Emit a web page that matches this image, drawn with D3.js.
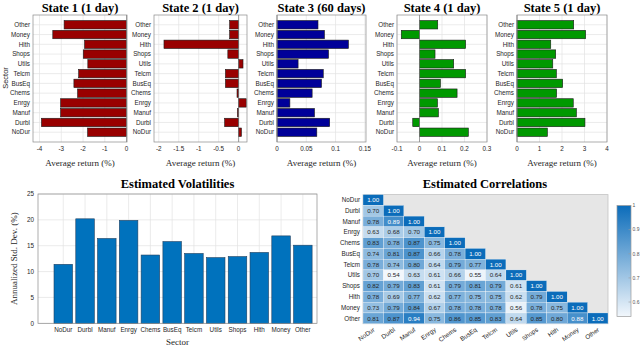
<!DOCTYPE html>
<html>
<head>
<meta charset="utf-8">
<script src="https://cdn.jsdelivr.net/npm/d3@7"></script>
<style>
  body { margin: 0; background: #fff; }
  svg { display: block; }
  .tick-lbl { font-family: "Liberation Sans", Arial, sans-serif; font-size: 6.3px; fill: #262626; }
  .ttl { font-family: "Liberation Serif", "DejaVu Serif", serif; font-weight: bold; font-size: 12.5px; fill: #000; }
  .lbl { font-family: "Liberation Serif", "DejaVu Serif", serif; font-size: 9px; fill: #262626; }
</style>
</head>
<body>
<div id="chart"></div>
<script>
// sectors, bottom to top in the state panels
var sectors = ["NoDur","Durbl","Manuf","Enrgy","Chems","BusEq","Telcm","Utils","Shops","Hlth","Money","Other"];

// average returns (%) per state
var state1 = [-1.79, -3.91, -3.03, -3.03, -2.25, -2.42, -2.20, -1.78, -1.99, -1.93, -3.39, -2.87];
var state2 = [0.07, -0.35, -0.03, 0.19, -0.04, -0.33, -0.33, 0.11, -0.27, -1.87, -0.225, -0.225];
var state3 = [0.068, 0.090, 0.064, 0.022, 0.060, 0.076, 0.079, 0.036, 0.088, 0.122, 0.081, 0.070];
var state4 = [0.217, -0.030, 0.084, 0.080, 0.167, 0.093, 0.205, 0.152, 0.069, 0.205, -0.081, 0.081];
var state5 = [1.35, 3.02, 2.64, 2.50, 1.76, 2.03, 1.75, 1.59, 1.72, 1.50, 3.05, 2.52];

var stateTitles = ["State 1 (1 day)", "State 2 (1 day)", "State 3 (60 days)", "State 4 (1 day)", "State 5 (1 day)"];
var stateTicks = [[-4,-3,-2,-1,0], [-2,-1.5,-1,-0.5,0], [0,0.05,0.1,0.15], [-0.1,0,0.1,0.2,0.3], [0,1,2,3,4]];

// annualized std dev (%)
var vols = [11.4, 20.2, 16.4, 19.9, 13.2, 15.8, 13.5, 12.7, 12.9, 13.7, 16.9, 15.1];
var volTicks = [0, 5, 10, 15, 20, 25];

// lower triangle of correlation matrix, row by row
var corr = [
  [1.00],
  [0.70, 1.00],
  [0.78, 0.89, 1.00],
  [0.63, 0.68, 0.70, 1.00],
  [0.83, 0.78, 0.87, 0.75, 1.00],
  [0.74, 0.81, 0.87, 0.66, 0.78, 1.00],
  [0.78, 0.74, 0.80, 0.64, 0.79, 0.77, 1.00],
  [0.70, 0.54, 0.63, 0.61, 0.66, 0.55, 0.64, 1.00],
  [0.82, 0.79, 0.83, 0.61, 0.79, 0.81, 0.79, 0.61, 1.00],
  [0.78, 0.69, 0.77, 0.62, 0.77, 0.75, 0.75, 0.62, 0.79, 1.00],
  [0.73, 0.79, 0.84, 0.67, 0.78, 0.78, 0.78, 0.56, 0.78, 0.75, 1.00],
  [0.81, 0.87, 0.94, 0.75, 0.86, 0.85, 0.83, 0.64, 0.85, 0.80, 0.88, 1.00]
];
var cbTicks = [0.6, 0.7, 0.8, 0.9, 1];

var W = 640, H = 348;
var svg = d3.select("#chart").append("svg").attr("width", W).attr("height", H);

// ---- top row: five state panels ----
var stateData = [state1, state2, state3, state4, state5];
var panels = [
  {x0: 33,  x1: 127, dom: [-4.3, 0.02],  fill: "#990000"},
  {x0: 154, x1: 247, dom: [-2.12, 0.21], fill: "#990000"},
  {x0: 277, x1: 366, dom: [0, 0.152],    fill: "#000099"},
  {x0: 397, x1: 487, dom: [-0.1, 0.3],   fill: "#009900"},
  {x0: 517, x1: 607, dom: [0, 4],        fill: "#009900"}
];
var pTop = 15, pBot = 142;

panels.forEach(function(p, k) {
  var data = stateData[k];
  var x = d3.scaleLinear().domain(p.dom).range([p.x0, p.x1]);
  var y = d3.scaleLinear().domain([0, 13]).range([pBot, pTop]);
  var g = svg.append("g");

  // grid
  g.selectAll(".gx").data(stateTicks[k]).enter().append("line")
    .attr("x1", function(d) { return x(d); }).attr("x2", function(d) { return x(d); })
    .attr("y1", pTop).attr("y2", pBot)
    .attr("stroke", "#e3e3e3").attr("stroke-width", 0.7);
  g.selectAll(".gy").data(sectors).enter().append("line")
    .attr("x1", p.x0).attr("x2", p.x1)
    .attr("y1", function(d, i) { return y(i + 1); }).attr("y2", function(d, i) { return y(i + 1); })
    .attr("stroke", "#e3e3e3").attr("stroke-width", 0.7);

  // bars
  var bh = (y(0) - y(1)) * 0.86;
  g.selectAll(".bar").data(data).enter().append("rect")
    .attr("x", function(d) { return Math.min(x(0), x(d)); })
    .attr("width", function(d) { return Math.abs(x(d) - x(0)); })
    .attr("y", function(d, i) { return y(i + 1) - bh / 2; })
    .attr("height", bh)
    .attr("fill", p.fill).attr("stroke", "#1a1a1a").attr("stroke-width", 0.6);

  // baseline
  g.append("line").attr("x1", x(0)).attr("x2", x(0)).attr("y1", pTop).attr("y2", pBot)
    .attr("stroke", "#7a7a7a").attr("stroke-width", 0.7);

  // box
  g.append("rect").attr("x", p.x0).attr("y", pTop).attr("width", p.x1 - p.x0).attr("height", pBot - pTop)
    .attr("fill", "none").attr("stroke", "#8a8a8a").attr("stroke-width", 0.7);

  // x tick labels
  g.selectAll(".xt").data(stateTicks[k]).enter().append("text")
    .attr("class", "tick-lbl")
    .attr("x", function(d) { return x(d); }).attr("y", pBot + 9)
    .attr("text-anchor", "middle")
    .text(function(d) { return String(d); });

  // y labels
  g.selectAll(".yt").data(sectors).enter().append("text")
    .attr("class", "tick-lbl")
    .attr("x", p.x0 - 3).attr("y", function(d, i) { return y(i + 1) + 2.2; })
    .attr("text-anchor", "end")
    .text(function(d) { return d; });

  // title, xlabel
  g.append("text").attr("class", "ttl").attr("x", (p.x0 + p.x1) / 2).attr("y", 12)
    .attr("text-anchor", "middle").text(stateTitles[k]);
  g.append("text").attr("class", "lbl").attr("x", (p.x0 + p.x1) / 2).attr("y", 166)
    .attr("text-anchor", "middle").text("Average return (%)");
});

svg.append("text")
  .attr("transform", "translate(8,78) rotate(-90)")
  .attr("text-anchor", "middle")
  .style("font-family", "Liberation Sans, Arial, sans-serif").style("font-size", "7.5px").style("fill", "#262626")
  .text("Sector");

// ---- bottom left: volatilities ----
(function() {
  var x0 = 38, x1 = 317, y0 = 323.3, y1 = 194;
  var x = d3.scaleLinear().domain([-0.16, 12.65]).range([x0, x1]);
  var y = d3.scaleLinear().domain([0, 25]).range([y0, y1]);
  var g = svg.append("g");

  g.selectAll(".gy").data(volTicks).enter().append("line")
    .attr("x1", x0).attr("x2", x1)
    .attr("y1", function(d) { return y(d); }).attr("y2", function(d) { return y(d); })
    .attr("stroke", "#e3e3e3").attr("stroke-width", 0.7);
  g.selectAll(".gx").data(sectors).enter().append("line")
    .attr("x1", function(d, i) { return x(i + 1); }).attr("x2", function(d, i) { return x(i + 1); })
    .attr("y1", y0).attr("y2", y1)
    .attr("stroke", "#e3e3e3").attr("stroke-width", 0.7);

  var bw = (x(1) - x(0)) * 0.85;
  g.selectAll(".bar").data(vols).enter().append("rect")
    .attr("x", function(d, i) { return x(i + 1) - bw / 2; })
    .attr("width", bw)
    .attr("y", function(d) { return y(d); })
    .attr("height", function(d) { return y(0) - y(d); })
    .attr("fill", "#0072bd").attr("stroke", "#1f3f5f").attr("stroke-width", 0.6);

  g.append("rect").attr("x", x0).attr("y", y1).attr("width", x1 - x0).attr("height", y0 - y1)
    .attr("fill", "none").attr("stroke", "#8a8a8a").attr("stroke-width", 0.7);

  g.selectAll(".yt").data(volTicks).enter().append("text")
    .attr("class", "tick-lbl")
    .attr("x", x0 - 4).attr("y", function(d) { return y(d) + 2.3; })
    .attr("text-anchor", "end").text(function(d) { return d; });
  g.selectAll(".xt").data(sectors).enter().append("text")
    .attr("class", "tick-lbl")
    .attr("x", function(d, i) { return x(i + 1); }).attr("y", y0 + 9)
    .attr("text-anchor", "middle").text(function(d) { return d; });

  g.append("text").attr("class", "ttl").attr("x", (x0 + x1) / 2).attr("y", 188)
    .attr("text-anchor", "middle").text("Estimated Volatilities");
  g.append("text").attr("class", "lbl").attr("x", (x0 + x1) / 2).attr("y", 345)
    .attr("text-anchor", "middle").text("Sector");
  g.append("text").attr("class", "lbl")
    .attr("transform", "translate(17," + ((y0 + y1) / 2) + ") rotate(-90)")
    .attr("text-anchor", "middle").text("Annualized Std. Dev. (%)");
})();

// ---- bottom right: correlation heatmap ----
(function() {
  var gx0 = 363, gx1 = 608, gy0 = 194.6, gy1 = 323.7;
  var x = d3.scaleBand().domain(sectors).range([gx0, gx1]);
  var y = d3.scaleBand().domain(sectors).range([gy0, gy1]);
  var color = d3.scaleLinear().domain([0.54, 1]).range(["#f2f7fc", "#0b6cba"]);
  var g = svg.append("g");

  g.append("rect").attr("x", gx0).attr("y", gy0).attr("width", gx1 - gx0).attr("height", gy1 - gy0)
    .attr("fill", "#e6e6e6").attr("stroke", "#c4c4c4").attr("stroke-width", 0.8);

  var cells = [];
  corr.forEach(function(row, i) {
    row.forEach(function(v, j) { cells.push({r: sectors[i], c: sectors[j], v: v}); });
  });

  g.selectAll(".cell").data(cells).enter().append("rect")
    .attr("x", function(d) { return x(d.c); }).attr("y", function(d) { return y(d.r); })
    .attr("width", x.bandwidth()).attr("height", y.bandwidth())
    .attr("fill", function(d) { return color(d.v); })
    .attr("stroke", "#ffffff").attr("stroke-width", 0.3);

  g.selectAll(".val").data(cells).enter().append("text")
    .attr("x", function(d) { return x(d.c) + x.bandwidth() / 2; })
    .attr("y", function(d) { return y(d.r) + y.bandwidth() / 2 + 2.2; })
    .attr("text-anchor", "middle")
    .style("font-family", "Liberation Sans, Arial, sans-serif").style("font-size", "6.2px")
    .style("fill", function(d) { return d.v > 0.875 ? "#ffffff" : "#262626"; })
    .text(function(d) { return d.v.toFixed(2); });

  g.selectAll(".rl").data(sectors).enter().append("text")
    .attr("class", "tick-lbl")
    .attr("x", gx0 - 3).attr("y", function(d) { return y(d) + y.bandwidth() / 2 + 2.2; })
    .attr("text-anchor", "end").text(function(d) { return d; });

  g.selectAll(".cl").data(sectors).enter().append("text")
    .attr("class", "tick-lbl")
    .attr("transform", function(d) { return "translate(" + (x(d) + x.bandwidth() / 2 + 2) + "," + (gy1 + 7) + ") rotate(-35)"; })
    .attr("text-anchor", "end").text(function(d) { return d; });

  g.append("text").attr("class", "ttl").attr("x", 485).attr("y", 188)
    .attr("text-anchor", "middle").text("Estimated Correlations");

  // colorbar
  var cbx = 617, cbw = 14, cbTop = 205.5, cbBot = 316.5;
  var cy = d3.scaleLinear().domain([0.54, 1]).range([cbBot, cbTop]);
  var defs = svg.append("defs");
  var grad = defs.append("linearGradient").attr("id", "cbg")
    .attr("x1", 0).attr("y1", 1).attr("x2", 0).attr("y2", 0);
  grad.append("stop").attr("offset", 0).attr("stop-color", color(0.54));
  grad.append("stop").attr("offset", 1).attr("stop-color", color(1));
  g.append("rect").attr("x", cbx).attr("y", cbTop).attr("width", cbw).attr("height", cbBot - cbTop)
    .attr("fill", "url(#cbg)").attr("stroke", "#9a9a9a").attr("stroke-width", 0.7);
  g.selectAll(".cbt").data(cbTicks).enter().append("line")
    .attr("x1", cbx + cbw - 2.5).attr("x2", cbx + cbw)
    .attr("y1", function(d) { return cy(d); }).attr("y2", function(d) { return cy(d); })
    .attr("stroke", "#9a9a9a").attr("stroke-width", 0.6);
  g.selectAll(".cbl").data(cbTicks).enter().append("text")
    .attr("x", cbx + cbw + 1.5).attr("y", function(d) { return cy(d) + 1.8; })
    .style("font-family", "Liberation Sans, Arial, sans-serif").style("font-size", "5px").style("fill", "#555")
    .text(function(d) { return d; });
})();
</script>
</body>
</html>
